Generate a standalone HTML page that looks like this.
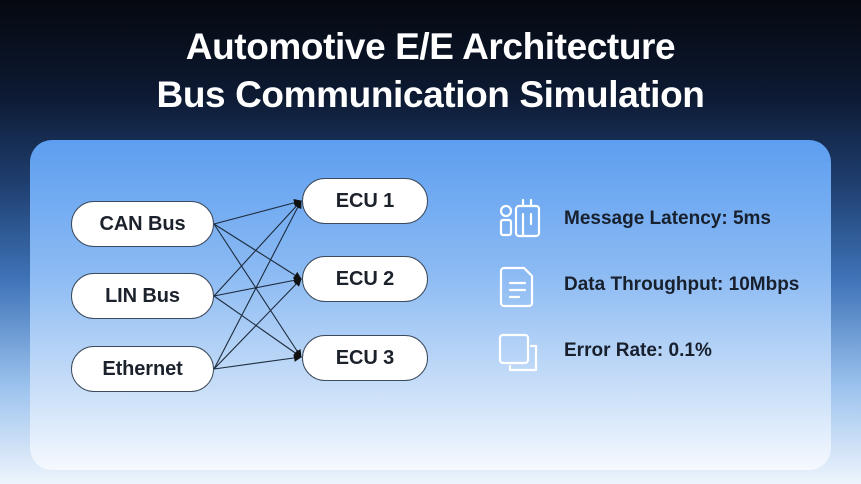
<!DOCTYPE html>
<html><head><meta charset="utf-8"><style>
html,body{margin:0;padding:0;}
body{width:861px;height:484px;overflow:hidden;position:relative;font-family:"Liberation Sans",sans-serif;
background:linear-gradient(180deg,#05080f 0%,#0d1a33 20%,#1f3f70 38%,#3f74b8 58%,#9cc3ee 80%,#eef4fc 100%);}
.title{position:absolute;left:0;width:861px;text-align:center;color:#fff;font-weight:bold;font-size:37px;letter-spacing:-0.4px;line-height:40px;}
.panel{position:absolute;left:30px;top:140px;width:801px;height:330px;border-radius:22px;
background:linear-gradient(180deg,#5d9ef0 0%,#8bbaf3 40%,#c8def8 75%,#f6f9fe 100%);}
.node{position:absolute;background:#fff;border:1.5px solid #3b4a5c;border-radius:23px;box-sizing:border-box;
display:flex;align-items:center;justify-content:center;font-size:20px;font-weight:bold;color:#1c222c;letter-spacing:-0.1px;}
.m{position:absolute;left:564px;font-size:19px;font-weight:bold;color:#18202e;letter-spacing:0px;}
</style></head><body>
<div class="title" style="top:27px">Automotive E/E Architecture</div>
<div class="title" style="top:75px">Bus Communication Simulation</div>
<div class="panel"></div>
<svg style="position:absolute;left:0;top:0" width="861" height="484">
<defs><marker id="a" markerWidth="8" markerHeight="8" refX="7" refY="4" orient="auto" markerUnits="userSpaceOnUse"><path d="M0,0 L8,4 L0,8z" fill="#111"/></marker></defs>
<g stroke="#1d2b3d" stroke-width="1.1" fill="none" marker-end="url(#a)">
<line x1="214" y1="224" x2="301" y2="201"/><line x1="214" y1="224" x2="301" y2="279"/><line x1="214" y1="224" x2="301" y2="357"/>
<line x1="214" y1="296" x2="301" y2="201"/><line x1="214" y1="296" x2="301" y2="279"/><line x1="214" y1="296" x2="301" y2="357"/>
<line x1="214" y1="369" x2="301" y2="201"/><line x1="214" y1="369" x2="301" y2="279"/><line x1="214" y1="369" x2="301" y2="357"/>
</g>
<g stroke="#fff" stroke-width="2.2" fill="none" stroke-linecap="round" stroke-linejoin="round">
<circle cx="506" cy="211" r="5"/><rect x="501" y="220" width="10" height="15" rx="2"/>
<rect x="516" y="206" width="23" height="30" rx="3"/><line x1="523" y1="214" x2="523" y2="235"/><line x1="531" y1="214" x2="531" y2="224"/>
<line x1="523" y1="200" x2="523" y2="206"/><line x1="531" y1="200" x2="531" y2="206"/>
<path d="M504 268 h20 l8 8 v27 a3 3 0 0 1 -3 3 h-25 a3 3 0 0 1 -3 -3 v-32 a3 3 0 0 1 3 -3z"/>
<line x1="510" y1="283" x2="525" y2="283"/><line x1="510" y1="290" x2="525" y2="290"/><line x1="510" y1="297" x2="519" y2="297"/>
<rect x="500" y="335" width="28" height="28" rx="3"/><path d="M531 346 h5 v24 h-26 v-4"/>
</g>
</svg>
<div class="node" style="left:71px;top:201px;width:143px;height:46px">CAN Bus</div>
<div class="node" style="left:71px;top:273px;width:143px;height:46px">LIN Bus</div>
<div class="node" style="left:71px;top:346px;width:143px;height:46px">Ethernet</div>
<div class="node" style="left:302px;top:178px;width:126px;height:46px">ECU 1</div>
<div class="node" style="left:302px;top:256px;width:126px;height:46px">ECU 2</div>
<div class="node" style="left:302px;top:335px;width:126px;height:46px">ECU 3</div>
<div class="m" style="top:208px">Message Latency: 5ms</div>
<div class="m" style="top:274px">Data Throughput: 10Mbps</div>
<div class="m" style="top:340px">Error Rate: 0.1%</div>
</body></html>
